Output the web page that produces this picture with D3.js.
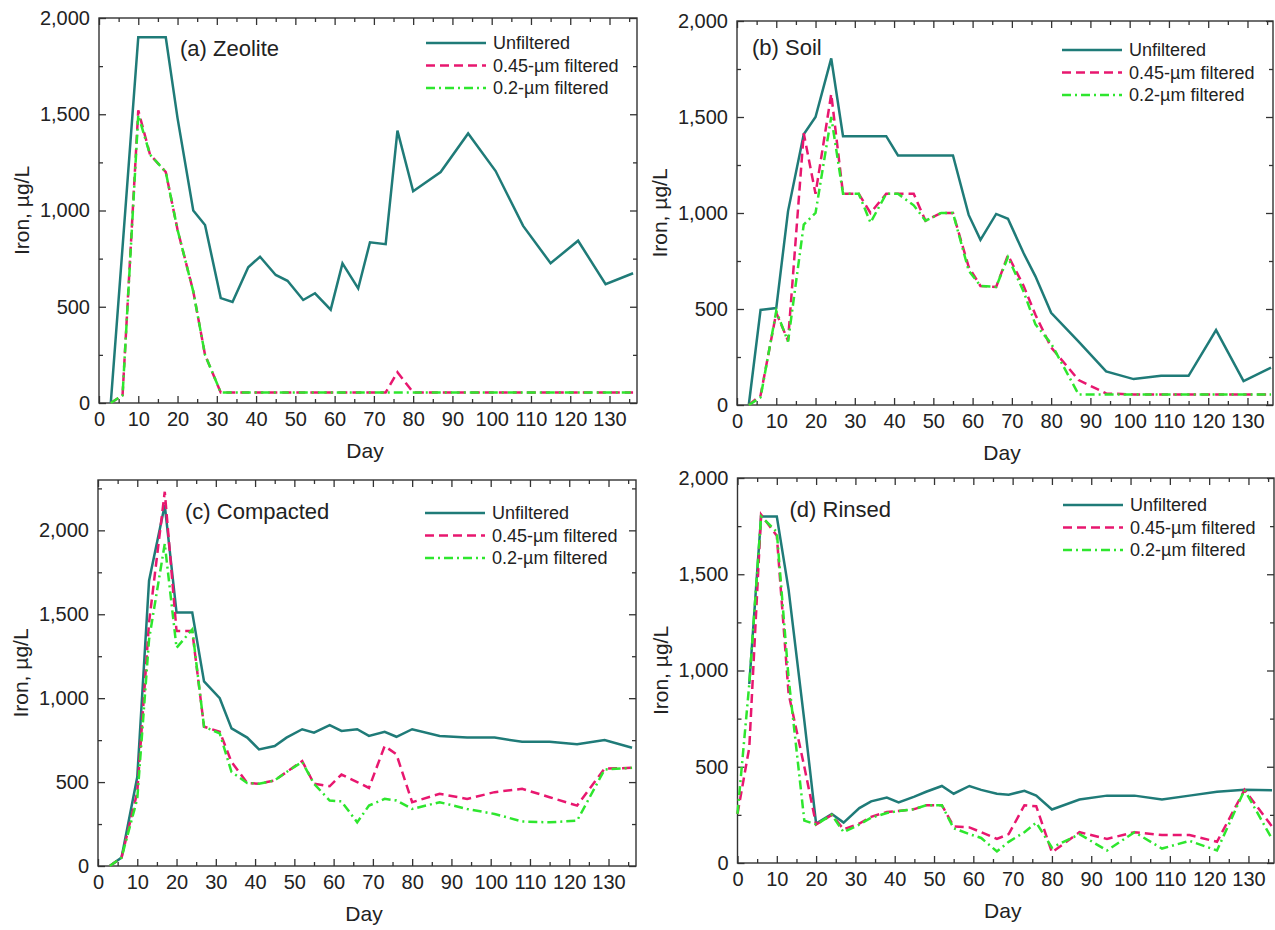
<!DOCTYPE html>
<html lang="en">
<head>
<meta charset="utf-8">
<title>Iron in column effluent</title>
<script src="https://d3js.org/d3.v7.min.js"></script>
<style>
  body { margin: 0; background: #fff; }
  text { font-family: Arial, "Liberation Sans", sans-serif; fill: #222; }
</style>
</head>
<body>
<script>
// sampling days (rinsed column also has a day-0 sample for the filtered runs)
var days = [3, 6, 10, 13, 17, 20, 24, 27, 31, 34, 38, 41, 45, 48, 52, 55, 59, 62, 66, 69, 73, 76, 80, 87, 94, 101, 108, 115, 122, 129, 136];
var daysRinsed = [0, 3, 6, 10, 13, 17, 20, 24, 27, 31, 34, 38, 41, 45, 48, 52, 55, 59, 62, 66, 69, 73, 76, 80, 87, 94, 101, 108, 115, 122, 129, 136];

var seriesNames = ["Unfiltered", "0.45-\u00b5m filtered", "0.2-\u00b5m filtered"];
var panelTitles = ["(a) Zeolite", "(b) Soil", "(c) Compacted", "(d) Rinsed"];
var yMajorTicks = [0, 500, 1000, 1500, 2000];

// (a) zeolite
var zeoUnf = [0, 810, 1900, 1900, 1900, 1480, 1000, 925, 545, 525, 705, 760, 665, 635, 535, 570, 485, 725, 595, 835, 825, 1415, 1100, 1200, 1400, 1205, 920, 726, 843, 617, 674];
var zeo045 = [0, 40, 1520, 1290, 1200, 900, 580, 250, 55, 55, 55, 55, 55, 55, 55, 55, 55, 55, 55, 55, 55, 160, 55, 55, 55, 55, 55, 55, 55, 55, 55];
var zeo02 = [0, 40, 1495, 1290, 1200, 900, 580, 250, 55, 55, 55, 55, 55, 55, 55, 55, 55, 55, 55, 55, 55, 55, 55, 55, 55, 55, 55, 55, 55, 55, 55];

// (b) soil
var soilUnf = [0, 495, 505, 1010, 1410, 1500, 1805, 1400, 1400, 1400, 1400, 1300, 1300, 1300, 1300, 1300, 990, 860, 995, 970, 790, 670, 480, 330, 175, 135, 152, 152, 390, 125, 195];
var soil045 = [0, 50, 480, 335, 1415, 1100, 1620, 1100, 1100, 1000, 1100, 1100, 1100, 960, 1000, 1000, 720, 620, 615, 780, 620, 470, 300, 130, 60, 55, 55, 55, 55, 55, 55];
var soil02 = [0, 40, 490, 330, 940, 1000, 1500, 1100, 1100, 950, 1100, 1100, 1040, 960, 1000, 1000, 700, 620, 615, 770, 590, 420, 320, 55, 55, 55, 55, 55, 55, 55, 55];

// (c) compacted
var compUnf = [0, 50, 530, 1700, 2150, 1510, 1510, 1100, 1000, 820, 765, 695, 715, 765, 815, 795, 840, 805, 815, 775, 800, 770, 815, 775, 765, 765, 740, 740, 725, 750, 705];
var comp045 = [0, 50, 440, 1450, 2230, 1400, 1400, 830, 800, 620, 495, 490, 510, 560, 625, 490, 475, 545, 500, 465, 715, 665, 380, 430, 400, 440, 460, 410, 360, 580, 585];
var comp02 = [0, 50, 400, 1350, 1920, 1300, 1410, 830, 790, 560, 495, 490, 510, 560, 620, 490, 390, 385, 260, 360, 400, 390, 340, 380, 340, 310, 265, 260, 270, 575, 585];

// (d) rinsed
var rinsUnf = [null, 930, 1800, 1800, 1420, 740, 205, 255, 210, 285, 320, 340, 315, 345, 370, 400, 360, 400, 380, 360, 355, 375, 350, 278, 330, 350, 350, 330, 350, 370, 380, 378];
var rins045 = [255, 600, 1810, 1700, 880, 500, 200, 250, 175, 205, 240, 265, 270, 280, 300, 300, 190, 185, 160, 125, 150, 300, 295, 55, 160, 125, 160, 145, 145, 110, 380, 190];
var rins02 = [255, 930, 1800, 1720, 960, 220, 200, 250, 160, 200, 235, 260, 270, 280, 300, 300, 180, 150, 130, 60, 110, 160, 210, 80, 150, 65, 160, 75, 115, 65, 380, 125];

var width = 1275;
var height = 930;

var styles = [
  { color: "#1f7b78", dash: null },
  { color: "#e8176f", dash: "9,5" },
  { color: "#2ee62e", dash: "9,4,2,4" }
];

// plot boxes, measured off the page
var panels = [
  { title: panelTitles[0], x0: 99, y0: 18, x1: 637, y1: 403, xMax: 137, yMax: 2000,
    days: days, series: [zeoUnf, zeo045, zeo02], titleDx: 81, titleDy: 38, legDy: 25 },
  { title: panelTitles[1], x0: 737, y0: 21, x1: 1273, y1: 405, xMax: 136.5, yMax: 2000,
    days: days, series: [soilUnf, soil045, soil02], titleDx: 15, titleDy: 34, legDy: 29 },
  { title: panelTitles[2], x0: 98, y0: 480, x1: 636, y1: 866, xMax: 137, yMax: 2300,
    days: days, series: [compUnf, comp045, comp02], titleDx: 87, titleDy: 39, legDy: 33 },
  { title: panelTitles[3], x0: 737.5, y0: 478, x1: 1274, y1: 863, xMax: 136.5, yMax: 2000,
    days: daysRinsed, series: [rinsUnf, rins045, rins02], titleDx: 52, titleDy: 39, legDy: 27 }
];

var svg = d3.select("body")
  .append("svg")
  .attr("width", width)
  .attr("height", height);

panels.forEach(function(p) {
  var g = svg.append("g");

  var x = d3.scaleLinear().domain([0, p.xMax]).range([p.x0, p.x1]);
  var y = d3.scaleLinear().domain([0, p.yMax]).range([p.y1, p.y0]);

  var xMajor = d3.range(0, p.xMax + 0.01, 10);
  var xMinor = d3.range(5, p.xMax, 10);
  var yMinor = d3.range(250, p.yMax, 500);
  var fmt = d3.format(",");

  // ticks point inwards on all four sides, labels only left and bottom
  g.append("g")
    .attr("class", "axis")
    .attr("transform", "translate(0," + p.y1 + ")")
    .call(d3.axisBottom(x).tickValues(xMajor).tickSize(-7).tickPadding(9).tickFormat(d3.format("d")));
  g.append("g")
    .attr("class", "axis")
    .attr("transform", "translate(0," + p.y1 + ")")
    .call(d3.axisBottom(x).tickValues(xMinor).tickSize(-4).tickFormat(""));
  g.append("g")
    .attr("class", "axis")
    .attr("transform", "translate(0," + p.y0 + ")")
    .call(d3.axisTop(x).tickValues(xMajor).tickSize(-7).tickFormat(""));
  g.append("g")
    .attr("class", "axis")
    .attr("transform", "translate(0," + p.y0 + ")")
    .call(d3.axisTop(x).tickValues(xMinor).tickSize(-4).tickFormat(""));

  g.append("g")
    .attr("class", "axis")
    .attr("transform", "translate(" + p.x0 + ",0)")
    .call(d3.axisLeft(y).tickValues(yMajorTicks).tickSize(-7).tickPadding(9).tickFormat(fmt));
  g.append("g")
    .attr("class", "axis")
    .attr("transform", "translate(" + p.x0 + ",0)")
    .call(d3.axisLeft(y).tickValues(yMinor).tickSize(-4).tickFormat(""));
  g.append("g")
    .attr("class", "axis")
    .attr("transform", "translate(" + p.x1 + ",0)")
    .call(d3.axisRight(y).tickValues(yMajorTicks).tickSize(-7).tickFormat(""));
  g.append("g")
    .attr("class", "axis")
    .attr("transform", "translate(" + p.x1 + ",0)")
    .call(d3.axisRight(y).tickValues(yMinor).tickSize(-4).tickFormat(""));

  g.selectAll(".axis .domain").remove();
  g.selectAll(".axis line").attr("stroke", "#333").attr("stroke-width", 1.3);
  g.selectAll(".axis text")
    .attr("fill", "#222")
    .style("font-size", "20px")
    .style("font-family", "Arial, 'Liberation Sans', sans-serif");

  // frame
  g.append("rect")
    .attr("x", p.x0)
    .attr("y", p.y0)
    .attr("width", p.x1 - p.x0)
    .attr("height", p.y1 - p.y0)
    .attr("fill", "none")
    .attr("stroke", "#333")
    .attr("stroke-width", 1.4);

  // series lines, unfiltered first so green sits on top
  p.series.forEach(function(vals, i) {
    var pts = p.days.map(function(d, j) { return [d, vals[j]]; });
    var line = d3.line()
      .defined(function(d) { return d[1] != null; })
      .x(function(d) { return x(d[0]); })
      .y(function(d) { return y(d[1]); });
    g.append("path")
      .datum(pts)
      .attr("d", line)
      .attr("fill", "none")
      .attr("stroke", styles[i].color)
      .attr("stroke-width", 2.5)
      .attr("stroke-linejoin", "miter")
      .attr("stroke-dasharray", styles[i].dash);
  });

  // panel title
  g.append("text")
    .attr("x", p.x0 + p.titleDx)
    .attr("y", p.y0 + p.titleDy)
    .style("font-size", "22px")
    .text(p.title);

  // legend
  seriesNames.forEach(function(name, i) {
    var ly = p.y0 + p.legDy + i * 22.5;
    g.append("line")
      .attr("x1", p.x1 - 211)
      .attr("x2", p.x1 - 151)
      .attr("y1", ly)
      .attr("y2", ly)
      .attr("stroke", styles[i].color)
      .attr("stroke-width", 2.5)
      .attr("stroke-dasharray", styles[i].dash);
    g.append("text")
      .attr("x", p.x1 - 144)
      .attr("y", ly + 6)
      .style("font-size", "18px")
      .text(name);
  });

  // axis titles
  g.append("text")
    .attr("x", (p.x0 + p.x1) / 2 - 3)
    .attr("y", p.y1 + 55)
    .attr("text-anchor", "middle")
    .style("font-size", "21px")
    .text("Day");
  g.append("text")
    .attr("transform", "translate(" + (p.x0 - 70) + "," + ((p.y0 + p.y1) / 2) + ") rotate(-90)")
    .attr("text-anchor", "middle")
    .style("font-size", "21px")
    .text("Iron, \u00b5g/L");
});
</script>
</body>
</html>
